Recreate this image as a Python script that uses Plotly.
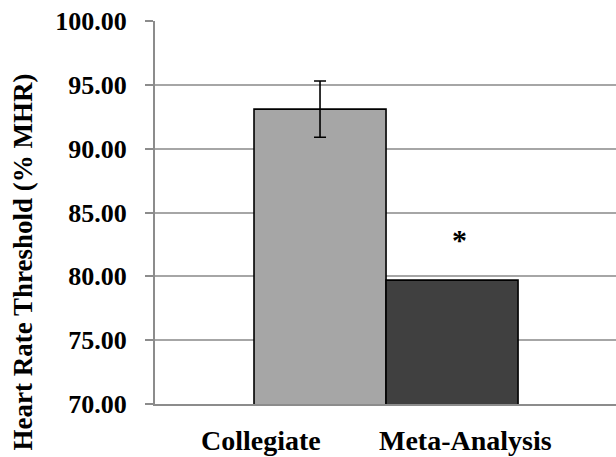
import plotly.graph_objects as go

categories = ["Collegiate", "Meta-Analysis"]
values = [93.1, 79.7]
errors = [2.2, None]
bar_colors = ["#a6a6a6", "#404040"]
y_ticks = [70, 75, 80, 85, 90, 95, 100]
y_title = "Heart Rate Threshold (% MHR)"
sig_marker = "*"

FONT = "Liberation Serif"

fig = go.Figure()
for i, cat in enumerate(categories):
    kw = {}
    if errors[i] is not None:
        kw["error_y"] = dict(type="data", array=[errors[i]], visible=True,
                             color="black", thickness=1.6, width=6)
    fig.add_trace(go.Bar(
        x=[cat], y=[values[i]], width=1,
        marker=dict(color=bar_colors[i], line=dict(color="black", width=1.6)),
        showlegend=False, **kw))

fig.update_layout(
    width=616, height=457,
    margin=dict(l=155, r=0, t=21, b=53),
    paper_bgcolor="white", plot_bgcolor="white",
    barmode="overlay",
    font=dict(family=FONT, color="black"),
)
fig.update_xaxes(type="category", categoryorder="array", categoryarray=categories,
                 range=[-1.25, 2.242], showticklabels=False, ticks="",
                 showline=True, linecolor="#8c8c8c", linewidth=2,
                 showgrid=False, zeroline=False)
fig.update_yaxes(range=[70, 100], tickvals=y_ticks,
                 ticktext=[f"<b>{v:.2f}</b>" for v in y_ticks],
                 tickfont=dict(family=FONT, size=26, color="black"),
                 ticks="outside", ticklen=8, tickcolor="#8c8c8c", tickwidth=2,
                 ticklabelstandoff=13,
                 showline=True, linecolor="#8c8c8c", linewidth=2,
                 showgrid=True, gridcolor="#a6a6a6", gridwidth=2,
                 zeroline=False)

# category labels (offset as in the original)
label_x = [-0.447, 1.10]
for cat, lx in zip(categories, label_x):
    fig.add_annotation(x=lx, xref="x", y=-0.094, yref="paper",
                       text=f"<b>{cat}</b>", showarrow=False,
                       font=dict(family=FONT, size=28, color="black"),
                       xanchor="center", yanchor="middle")

# significance marker
fig.add_annotation(x=1.06, xref="x", y=82.9, yref="y", text=f"<b>{sig_marker}</b>",
                   showarrow=False, font=dict(family=FONT, size=30, color="black"),
                   xanchor="center", yanchor="middle")

# y-axis title
fig.add_annotation(x=-0.286, xref="paper", y=0.37, yref="paper",
                   text=f"<b>{y_title}</b>", textangle=-90, showarrow=False,
                   font=dict(family=FONT, size=27, color="black"),
                   xanchor="center", yanchor="middle")

fig.write_html("out.html", config={"displayModeBar": False},
               post_script="document.body.style.margin='0';document.body.style.overflow='hidden';")
